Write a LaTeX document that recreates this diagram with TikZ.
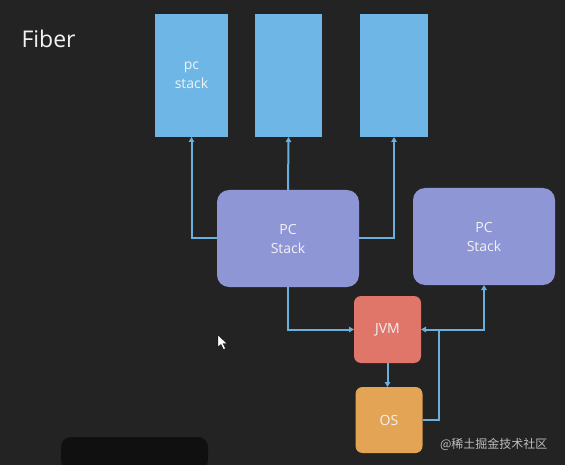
\documentclass[tikz,border=0pt]{standalone}
\usepackage{fontspec}
\setmainfont{Open Sans}
\newfontfamily\cjk{Noto Sans CJK SC}
\usetikzlibrary{arrows.meta}
\definecolor{bg}{HTML}{232323}
\definecolor{stackblue}{HTML}{6DB6E6}
\definecolor{pcpurple}{HTML}{8E96D6}
\definecolor{jvmred}{HTML}{E0766A}
\definecolor{osorange}{HTML}{E3A455}
\definecolor{linkblue}{HTML}{6AB0DE}
\definecolor{txt}{HTML}{F2F2F2}
\tikzset{
  stackbox/.style={fill=stackblue, draw=none, inner sep=0pt, outer sep=0pt, text=txt,
    font=\fontsize{14}{19}\selectfont, align=center},
  pcbox/.style={fill=pcpurple, draw=none, rounded corners=12pt, inner sep=0pt, outer sep=0pt,
    text=txt, font=\fontsize{14}{19}\selectfont, align=center, minimum width=142pt, minimum height=97pt},
  smallbox/.style={draw=none, rounded corners=7pt, inner sep=0pt, outer sep=0pt,
    text=txt, font=\fontsize{14}{17}\selectfont, minimum width=67pt, minimum height=67pt},
  conn/.style={draw=linkblue, line width=2pt},
  arr/.style={conn, -{Triangle[length=5pt,width=5.5pt]}}
}
\begin{document}
\begin{tikzpicture}[x=1pt,y=-1pt]
\useasboundingbox (0,0) rectangle (565,465);
\fill[bg] (0,0) rectangle (565,465);
\fill[black!55!bg, rounded corners=10pt] (61,437) rectangle (208,470);
% title
\node[text=txt, font=\fontsize{23}{27}\selectfont, anchor=west] (title) at (18,39) {Fiber};
% stacks
\node[stackbox, minimum width=73pt, minimum height=123pt] (r1) at (191.5,75.5) {pc\\stack};
\node[stackbox, minimum width=67pt, minimum height=123pt] (r2) at (288.5,75.5) {};
\node[stackbox, minimum width=68pt, minimum height=123pt] (r3) at (394,75.5) {};
% pc stacks
\node[pcbox] (b1) at (288,238.5) {PC\\Stack};
\node[pcbox] (b2) at (484,236.5) {PC\\Stack};
% jvm / os
\node[smallbox, fill=jvmred] (jvm) at (387.5,329.5) {JVM};
\node[smallbox, fill=osorange, minimum height=66pt] (os) at (389,420) {OS};
\coordinate (k) at (439,329.5);
% connectors
\draw[arr] (b1.west) -| (r1.south);
\draw[arr] (b1.east) -| (r3.south);
\draw[arr] (b1.north) -- (r2.south);
\draw[arr] (b1.south) |- (jvm.west);
\draw[arr] (jvm.south) -- (jvm.south |- os.north);
\draw[conn] (os.east) -| (k);
\draw[arr] (k) -- (jvm.east);
\draw[arr] (k) -| (b2.south);
% cursor
\fill[white, draw=black, line width=0.4pt] (218,335) -- (218,347) -- (221,344.5) -- (223.5,349.5) -- (225.5,348.5) -- (223,343.5) -- (227,343.5) -- cycle;
% watermark
\node[text=white!70!bg, font=\cjk\fontsize{12}{14}\selectfont, anchor=east] (wm) at (551,444) {@稀土掘金技术社区};
\end{tikzpicture}
\end{document}
